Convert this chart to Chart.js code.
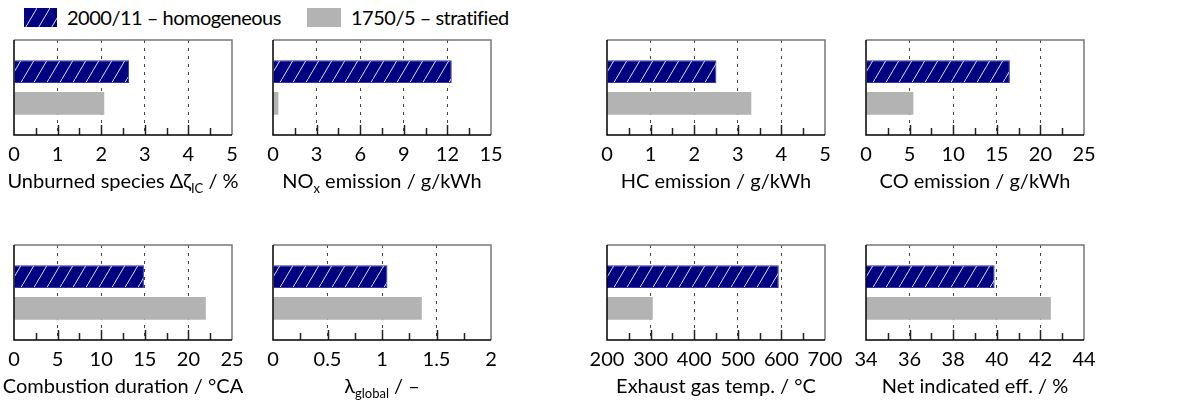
<!DOCTYPE html>
<html>
<head>
<meta charset="utf-8">
<script src="https://cdn.jsdelivr.net/npm/chart.js@4.4.0/dist/chart.umd.min.js"></script>
<style>
  body { margin: 0; background: #fff; font-family: Lato, sans-serif; color: #000; }
  #wrap { position: relative; width: 1178px; height: 405px; overflow: hidden; }
  #wrap canvas { position: absolute; }
  .title { position: absolute; width: 278px; text-align: center; font-size: 20px; line-height: 24px; white-space: nowrap; }
  .title sub { font-size: 13px; line-height: 0; vertical-align: -5px; }
  .key { position: absolute; top: 5px; font-size: 20px; line-height: 24px; letter-spacing: -0.5px; white-space: nowrap; }
</style>
</head>
<body>
<div id="wrap"></div>
<script>
const seriesNames = ['2000/11 \u2013 homogeneous', '1750/5 \u2013 stratified'];
const titles = [
  'Unburned species \u0394\u03b6<sub>IC</sub> / %',
  'NO<sub>x</sub> emission / g/kWh',
  'HC emission / g/kWh',
  'CO emission / g/kWh',
  'Combustion duration / \u00b0CA',
  '\u03bb<sub>global</sub> / \u2013',
  'Exhaust gas temp. / \u00b0C',
  'Net indicated eff. / %'
];
const homogeneous = [2.64, 12.3, 2.51, 16.5, 14.9, 1.05, 594, 39.9];
const stratified = [2.07, 0.37, 3.31, 5.43, 22.0, 1.365, 305, 42.48];
const axisMin = [0, 0, 0, 0, 0, 0, 200, 34];
const axisMax = [5, 15, 5, 25, 25, 2, 700, 44];
const axisStep = [1, 3, 1, 5, 5, 0.5, 100, 2];

const NAVY = '#000080';
const GREY = '#b3b3b3';
const colLeft = [14, 273, 607, 866];
const rowTop = [40, 245];
const PLOT_W = 218, PLOT_H = 95, PAD = 30;

// white "/" hatching on navy
function hatch(ctx) {
  const c = document.createElement('canvas');
  c.width = 13; c.height = 22;
  const g = c.getContext('2d');
  g.fillStyle = NAVY;
  g.fillRect(0, 0, 13, 22);
  g.strokeStyle = '#dcdcf4';
  g.lineWidth = 1;
  g.beginPath();
  g.moveTo(-1, 22 + 22 / 13);
  g.lineTo(14, -22 / 13);
  g.stroke();
  return ctx.createPattern(c, 'repeat');
}

// inward ticks on the bottom axis and the box around the plot
const frame = {
  id: 'frame',
  afterDatasetsDraw(chart) {
    const { ctx, chartArea: a, scales: { x } } = chart;
    const half = x.options.ticks.stepSize / 2;
    const n = Math.round((x.max - x.min) / half);
    ctx.save();
    ctx.strokeStyle = '#222';
    ctx.lineWidth = 1.5;
    for (let i = 1; i < n; i++) {
      const px = Math.round(x.getPixelForValue(x.min + i * half)) + 0.5;
      ctx.beginPath();
      ctx.moveTo(px, a.bottom);
      ctx.lineTo(px, a.bottom - (i % 2 ? 7 : 10));
      ctx.stroke();
    }
    ctx.strokeStyle = '#777';
    ctx.beginPath();
    ctx.moveTo(a.left, a.top);
    ctx.lineTo(a.right, a.top);
    ctx.lineTo(a.right, a.bottom);
    ctx.stroke();
    ctx.strokeStyle = '#000';
    ctx.beginPath();
    ctx.moveTo(a.left, a.top);
    ctx.lineTo(a.left, a.bottom);
    ctx.lineTo(a.right, a.bottom);
    ctx.stroke();
    ctx.restore();
  }
};

const wrap = document.getElementById('wrap');

function panel(k) {
  const left = colLeft[k % 4], top = rowTop[Math.floor(k / 4)];
  const cv = document.createElement('canvas');
  cv.width = PLOT_W + 2 * PAD;
  cv.height = 5 + PLOT_H + 40;
  cv.style.left = (left - PAD) + 'px';
  cv.style.top = (top - 5) + 'px';
  wrap.appendChild(cv);

  const t = document.createElement('div');
  t.className = 'title';
  t.style.left = (left - PAD) + 'px';
  t.style.top = (top + 128) + 'px';
  t.innerHTML = titles[k];
  wrap.appendChild(t);

  const min = axisMin[k], max = axisMax[k];
  new Chart(cv, {
    type: 'bar',
    data: {
      labels: ['', seriesNames[0], seriesNames[1], ''],
      datasets: [
        {
          label: seriesNames[0],
          data: [null, homogeneous[k], null, null],
          backgroundColor: hatch(cv.getContext('2d')),
          borderColor: '#3535a8',
          borderWidth: 1,
          borderSkipped: 'left'
        },
        {
          label: seriesNames[1],
          data: [null, null, stratified[k], null],
          backgroundColor: GREY,
          borderWidth: 0
        }
      ]
    },
    options: {
      indexAxis: 'y',
      responsive: false,
      animation: false,
      devicePixelRatio: 1,
      grouped: false,
      layout: { padding: { left: PAD, right: PAD, top: 5, bottom: 0 } },
      plugins: { legend: { display: false }, tooltip: { enabled: false } },
      scales: {
        y: { display: false, offset: false },
        x: {
          type: 'linear',
          min: min,
          max: max,
          afterFit: (s) => { s.height = 40; },
          grid: {
            drawTicks: false,
            lineWidth: 1,
            color: (c) => (c.tick && c.tick.value > min && c.tick.value < max) ? '#444' : 'rgba(0,0,0,0)'
          },
          border: { display: false, dash: [3, 5] },
          ticks: {
            stepSize: axisStep[k],
            autoSkip: false,
            maxRotation: 0,
            padding: 8,
            color: '#000',
            font: { family: 'Lato', size: 20 },
            callback: (v) => String(Math.round(v * 100) / 100)
          }
        }
      }
    },
    plugins: [frame]
  });
}

for (let k = 0; k < titles.length; k++) panel(k);

// legend row
function key(x, swatchW, fill, text) {
  const sw = document.createElement('canvas');
  sw.width = swatchW; sw.height = 19;
  sw.style.left = x + 'px';
  sw.style.top = '8px';
  wrap.appendChild(sw);
  const g = sw.getContext('2d');
  g.fillStyle = fill === 'hatch' ? hatch(g) : fill;
  g.fillRect(0, 0, swatchW, 19);
  const d = document.createElement('div');
  d.className = 'key';
  d.style.left = (x + swatchW + 10) + 'px';
  d.textContent = text;
  wrap.appendChild(d);
}
key(24, 33, 'hatch', seriesNames[0]);
key(307, 34, GREY, seriesNames[1]);
</script>
</body>
</html>
